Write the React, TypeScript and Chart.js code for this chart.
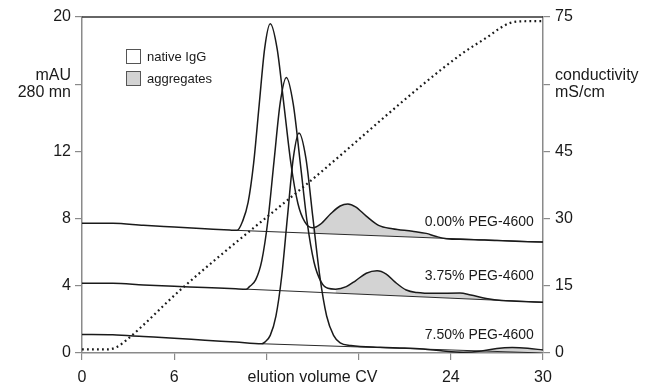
import React, { useEffect, useRef } from "react";
import { Chart, registerables } from "chart.js";

Chart.register(...registerables);

// ---- data (x in CV, y in mAU) ----
const peg000X = [0, 2, 4, 6, 8, 9.6, 10.1, 10.45, 10.81, 11.17, 11.53, 11.89, 12.25, 12.7, 13.15, 13.6, 14.05, 14.5, 15.0, 15.5, 16.2, 16.8, 17.3, 17.8, 18.5, 19.3, 20.2, 21.5, 22.4, 23.0, 23.7, 25, 27, 30];
const peg000Y = [7.72, 7.72, 7.6, 7.5, 7.4, 7.32, 7.3, 7.84, 8.96, 11.3, 14.77, 18.15, 19.6, 18.1, 14.7, 11.25, 8.9, 7.8, 7.45, 7.65, 8.3, 8.75, 8.87, 8.7, 8.15, 7.6, 7.4, 7.25, 7.12, 6.95, 6.8, 6.76, 6.69, 6.6];
const peg375X = [0, 2, 4, 6, 8, 10, 10.7, 10.9, 11.3, 11.7, 12.1, 12.5, 12.9, 13.3, 13.75, 14.2, 14.65, 15.1, 15.55, 16.0, 16.5, 17.2, 17.8, 18.5, 19.2, 19.8, 20.4, 21.1, 21.8, 23.0, 24.6, 25.3, 26.3, 27.3, 28.3, 30];
const peg375Y = [4.15, 4.15, 4.05, 3.97, 3.9, 3.82, 3.8, 3.95, 4.35, 5.5, 7.9, 11.45, 14.9, 16.4, 14.8, 11.35, 7.8, 5.4, 4.25, 3.85, 3.8, 3.95, 4.3, 4.75, 4.9, 4.7, 4.2, 3.75, 3.6, 3.55, 3.57, 3.45, 3.25, 3.12, 3.08, 3.02];
const peg750X = [0, 2, 4, 6, 8, 10, 11.7, 11.9, 12.25, 12.62, 13.0, 13.37, 13.75, 14.12, 14.57, 15.02, 15.47, 15.92, 16.37, 16.8, 17.5, 19.4, 21.0, 22.2, 23.5, 24.8, 26.0, 27.0, 28.0, 29.0, 30];
const peg750Y = [1.1, 1.08, 0.98, 0.88, 0.76, 0.65, 0.55, 0.65, 1.05, 2.2, 4.6, 8.1, 11.6, 13.1, 11.6, 8.1, 4.6, 2.2, 1.05, 0.6, 0.45, 0.34, 0.3, 0.24, 0.12, 0.05, 0.12, 0.27, 0.32, 0.28, 0.18];

// straight baselines under each trace (start, end)
const base000X = [10.1, 30];
const base000Y = [7.3, 6.6];
const base375X = [10.7, 30];
const base375Y = [3.8, 3.02];
const base750X = [11.7, 30];
const base750Y = [0.55, 0.0];

// first index of each trace where the aggregate (grey) region starts
const aggStart = [18, 20, 20];

// conductivity (mS/cm) on right axis
const condX = [0, 1.7, 2.3, 2.9, 6.6, 14.8, 24.6, 26.5, 27.2, 27.8, 28.4, 30];
const condY = [0.8, 0.8, 1.4, 2.9, 14.7, 38.2, 66.5, 70.8, 72.5, 73.6, 74.0, 74.1];

const xTicks = [0, 6, 12, 15, 18, 24, 30];
const xTickLabels: Record<number, string> = { 0: "0", 6: "6", 12: "", 15: "elution volume CV", 18: "", 24: "24", 30: "30" };
const leftTitle = ["mAU", "280 mn"];
const rightTitle = ["conductivity", "mS/cm"];
const traceLabels = ["0.00% PEG-4600", "3.75% PEG-4600", "7.50% PEG-4600"];
const legendLabels = ["native IgG", "aggregates"];

const FONT = "'Liberation Sans', Arial, Helvetica, sans-serif";
const GREY_FILL = "#d3d3d3";
const AXIS = "#8a8a8a";
const INK = "#1a1a1a";

const zip = (xs: number[], ys: number[]) => xs.map((x, i) => ({ x, y: ys[i] }));

export default function App() {
  const ref = useRef<HTMLCanvasElement | null>(null);

  useEffect(() => {
    if (!ref.current) return;
    const traces = [
      [peg000X, peg000Y],
      [peg375X, peg375Y],
      [peg750X, peg750Y],
    ];
    const bases = [
      [base000X, base000Y],
      [base375X, base375Y],
      [base750X, base750Y],
    ];
    const datasets: any[] = [];
    // 0-2 baselines
    bases.forEach(([xs, ys]) =>
      datasets.push({
        data: zip(xs, ys),
        borderColor: "#2a2a2a",
        borderWidth: 1,
        pointRadius: 0,
        fill: false,
        order: 1,
      })
    );
    // 3-5 aggregate fills
    traces.forEach(([xs, ys], i) =>
      datasets.push({
        data: zip(xs.slice(aggStart[i]), ys.slice(aggStart[i])),
        borderWidth: 0,
        borderColor: "rgba(0,0,0,0)",
        pointRadius: 0,
        cubicInterpolationMode: "monotone",
        fill: { target: i, above: GREY_FILL, below: "rgba(0,0,0,0)" },
        order: 5,
      })
    );
    // 6-8 traces
    traces.forEach(([xs, ys]) =>
      datasets.push({
        data: zip(xs, ys),
        borderColor: INK,
        borderWidth: 1.5,
        pointRadius: 0,
        cubicInterpolationMode: "monotone",
        fill: false,
        order: 0,
      })
    );
    // conductivity
    datasets.push({
      data: zip(condX, condY),
      yAxisID: "y1",
      borderColor: INK,
      borderWidth: 2.2,
      borderDash: [1.8, 3.2],
      pointRadius: 0,
      cubicInterpolationMode: "monotone",
      fill: false,
      order: 0,
    });

    const overlay = {
      id: "overlay",
      afterDatasetsDraw(chart: any) {
        const { ctx, chartArea, scales } = chart;
        ctx.save();
        // top frame line
        ctx.strokeStyle = "#333";
        ctx.lineWidth = 1.4;
        ctx.beginPath();
        ctx.moveTo(chartArea.left, chartArea.top);
        ctx.lineTo(chartArea.right, chartArea.top);
        ctx.stroke();
        // trace labels
        ctx.fillStyle = INK;
        ctx.font = `14px ${FONT}`;
        ctx.textAlign = "right";
        ctx.textBaseline = "middle";
        const labelY = [7.8, 4.58, 1.07];
        traceLabels.forEach((t, i) => {
          ctx.fillText(t, scales.x.getPixelForValue(29.4), scales.y.getPixelForValue(labelY[i]));
        });
        // legend
        const lx = chartArea.left + 44;
        const ly = chartArea.top + 32;
        const fills = ["#ffffff", GREY_FILL];
        ctx.font = `13px ${FONT}`;
        ctx.textAlign = "left";
        legendLabels.forEach((t, i) => {
          const by = ly + i * 22;
          ctx.fillStyle = fills[i];
          ctx.fillRect(lx, by, 15, 15);
          ctx.strokeStyle = "#555";
          ctx.lineWidth = 1;
          ctx.strokeRect(lx + 0.5, by + 0.5, 14, 14);
          ctx.fillStyle = INK;
          ctx.fillText(t, lx + 21, by + 8);
        });
        ctx.restore();
      },
    };

    const chart = new Chart(ref.current, {
      type: "line",
      data: { datasets },
      plugins: [overlay],
      options: {
        animation: false,
        responsive: false,
        devicePixelRatio: 1,
        font: { family: FONT },
        layout: { padding: { top: 17, left: 0, right: 0, bottom: 0 } },
        plugins: { legend: { display: false }, tooltip: { enabled: false } },
        scales: {
          x: {
            type: "linear",
            min: 0,
            max: 30,
            afterBuildTicks: (axis: any) => {
              axis.ticks = xTicks.map((v) => ({ value: v }));
            },
            afterFit: (s: any) => {
              s.height = 31;
            },
            border: { display: true, color: AXIS, width: 1.5 },
            grid: {
              drawOnChartArea: false,
              drawTicks: true,
              tickLength: 7,
              color: (c: any) => (c.tick && c.tick.value === 15 ? "rgba(0,0,0,0)" : AXIS),
              lineWidth: 1.2,
            },
            ticks: {
              autoSkip: false,
              maxRotation: 0,
              padding: 8,
              color: INK,
              font: { size: 16, family: FONT },
              callback: (v: any) => xTickLabels[v as number] ?? String(v),
            },
          },
          y: {
            type: "linear",
            position: "left",
            min: 0,
            max: 20,
            afterFit: (s: any) => {
              s.width = 82;
            },
            border: { display: true, color: AXIS, width: 1.5 },
            grid: { drawOnChartArea: false, tickLength: 7, color: AXIS, lineWidth: 1.2 },
            ticks: {
              stepSize: 4,
              padding: 4,
              color: INK,
              font: { size: 16, family: FONT, lineHeight: 1.05 },
              callback: (v: any) => (v === 16 ? leftTitle : String(v)),
            },
          },
          y1: {
            type: "linear",
            position: "right",
            min: 0,
            max: 75,
            afterFit: (s: any) => {
              s.width = 109;
            },
            border: { display: true, color: AXIS, width: 1.5 },
            grid: { drawOnChartArea: false, tickLength: 7, color: AXIS, lineWidth: 1.2 },
            ticks: {
              stepSize: 15,
              padding: 5,
              color: INK,
              font: { size: 16, family: FONT, lineHeight: 1.05 },
              callback: (v: any) => (v === 60 ? rightTitle : String(v)),
            },
          },
        },
      } as any,
    });
    return () => chart.destroy();
  }, []);

  return (
    <div style={{ position: "absolute", left: 0, top: 0, width: 652, height: 384, background: "#fff" }}>
      <canvas ref={ref} width={652} height={384} style={{ display: "block" }} />
    </div>
  );
}
